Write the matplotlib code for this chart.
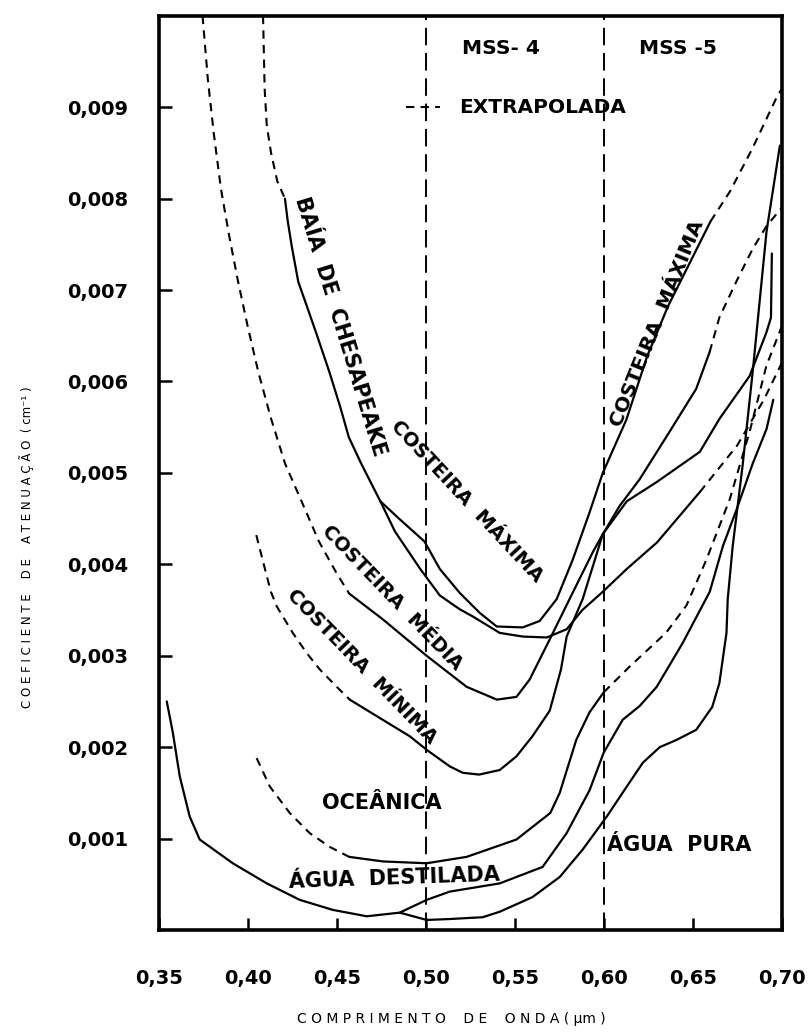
import matplotlib
matplotlib.use("Agg")
import matplotlib.pyplot as plt

# wavelength (um) / attenuation (cm^-1)
ches_ext_x = [0.4086, 0.4095, 0.4107, 0.4131, 0.4166, 0.4209]
ches_ext_y = [0.0100, 0.0092, 0.0088, 0.0085, 0.00819, 0.0080]
ches_x = [0.4209, 0.4225, 0.4249, 0.4284, 0.4331, 0.439, 0.4461, 0.452, 0.4568, 0.4638,
          0.4745, 0.4827, 0.4969, 0.5079, 0.519, 0.5264, 0.5416, 0.5545, 0.568, 0.5792,
          0.588, 0.5995, 0.613, 0.63, 0.654]
ches_y = [0.0080, 0.00775, 0.00746, 0.00709, 0.00683, 0.0065, 0.00609, 0.00572, 0.00539, 0.0051,
          0.00469, 0.00436, 0.00395, 0.00366, 0.00351, 0.00343, 0.00325, 0.00321, 0.0032, 0.00329,
          0.0035, 0.0037, 0.00395, 0.00424, 0.00479]
ches_ext2_x = [0.654, 0.675, 0.690, 0.700]
ches_ext2_y = [0.00479, 0.0053, 0.0058, 0.0062]

cmax_x = [0.4745, 0.4850, 0.4993, 0.5079, 0.519, 0.5303, 0.5399, 0.5545, 0.564, 0.5736,
          0.5826, 0.5921, 0.5995, 0.6127, 0.6245, 0.6363, 0.6505, 0.660]
cmax_y = [0.00469, 0.00450, 0.00425, 0.00395, 0.00369, 0.00347, 0.00332, 0.00331, 0.00338,
          0.00362, 0.00405, 0.00457, 0.00500, 0.00558, 0.00628, 0.00683, 0.00738, 0.00775]
cmax_ext_x = [0.660, 0.671, 0.6836, 0.697, 0.700]
cmax_ext_y = [0.00775, 0.00808, 0.00855, 0.0091, 0.0092]

cmed_ext_x = [0.3746, 0.3776, 0.381, 0.385, 0.3895, 0.3945, 0.400, 0.406, 0.413, 0.421,
              0.430, 0.440, 0.450, 0.457]
cmed_ext_y = [0.0100, 0.0093, 0.0087, 0.0081, 0.0076, 0.0071, 0.0066, 0.0061, 0.0056, 0.0051,
              0.0047, 0.00425, 0.0039, 0.00368]
cmed_x = [0.457, 0.4758, 0.5005, 0.523, 0.540, 0.551, 0.5584, 0.5697, 0.5826, 0.5938,
          0.5995, 0.609, 0.6202, 0.637, 0.652, 0.6595]
cmed_y = [0.00368, 0.0034, 0.0030, 0.00266, 0.00252, 0.00255, 0.00274, 0.00318, 0.00369, 0.00413,
          0.00433, 0.00464, 0.00493, 0.00545, 0.00592, 0.00632]
cmed_ext2_x = [0.6595, 0.665, 0.6747, 0.6837, 0.6915, 0.700]
cmed_ext2_y = [0.00632, 0.0067, 0.0071, 0.00745, 0.0077, 0.0079]

cmin_ext_x = [0.4048, 0.409, 0.413, 0.4163, 0.4253, 0.4331, 0.4405, 0.450, 0.4573]
cmin_ext_y = [0.00432, 0.0040, 0.0037, 0.00354, 0.00325, 0.00303, 0.00285, 0.00266, 0.00252]
cmin_x = [0.4573, 0.4758, 0.491, 0.5006, 0.5135, 0.5208, 0.530, 0.5416, 0.551, 0.560,
          0.5697, 0.5760, 0.5792, 0.5882, 0.5995, 0.613, 0.6298, 0.654, 0.665, 0.682,
          0.6915, 0.694, 0.6945]
cmin_y = [0.00252, 0.0023, 0.00212, 0.00197, 0.00179, 0.00172, 0.0017, 0.00175, 0.0019, 0.00212,
          0.0024, 0.00285, 0.00321, 0.00362, 0.00433, 0.00469, 0.0049, 0.00523, 0.00559, 0.00606,
          0.00654, 0.0067, 0.0074]

ocea_ext_x = [0.405, 0.4124, 0.4236, 0.4348, 0.446, 0.457]
ocea_ext_y = [0.00188, 0.00157, 0.00128, 0.00106, 0.00091, 0.0008]
ocea_x = [0.457, 0.476, 0.5005, 0.523, 0.551, 0.570, 0.5753, 0.5846, 0.592, 0.600]
ocea_y = [0.0008, 0.00075, 0.00073, 0.0008, 0.00099, 0.00128, 0.0015, 0.00208, 0.00238, 0.0026]
ocea_ext2_x = [0.600, 0.6145, 0.635, 0.6465, 0.6577, 0.6708, 0.682, 0.6914, 0.700]
ocea_ext2_y = [0.0026, 0.00288, 0.00325, 0.00355, 0.00405, 0.00471, 0.00545, 0.00617, 0.0066]

dest_x = [0.3545, 0.3579, 0.3618, 0.3674, 0.373, 0.3916, 0.4107, 0.4292, 0.4478, 0.4669,
          0.4854, 0.5006, 0.5135, 0.5416, 0.5657, 0.5792, 0.5921, 0.600, 0.6107, 0.6202,
          0.6298, 0.6444, 0.6596, 0.667, 0.6747, 0.6837, 0.6915, 0.6953]
dest_y = [0.0025, 0.00216, 0.00168, 0.00124, 0.00099, 0.00073, 0.00051, 0.00033, 0.00022, 0.00015,
          0.00019, 0.00033, 0.00042, 0.00051, 0.00069, 0.00106, 0.00153, 0.00194, 0.0023, 0.00245,
          0.00266, 0.00314, 0.0037, 0.0042, 0.0046, 0.0051, 0.00548, 0.0058]

pura_x = [0.4854, 0.5006, 0.5135, 0.532, 0.5416, 0.560, 0.5753, 0.5882, 0.6017, 0.613,
          0.622, 0.6315, 0.641, 0.652, 0.661, 0.665, 0.669, 0.6697, 0.6725, 0.678,
          0.6837, 0.6915, 0.699]
pura_y = [0.00019, 0.00011, 0.00012, 0.00014, 0.0002, 0.00036, 0.00058, 0.00088, 0.00124, 0.00157,
          0.00183, 0.002, 0.00208, 0.00219, 0.00244, 0.0027, 0.00325, 0.00362, 0.0042, 0.00507,
          0.0061, 0.00764, 0.00858]

mss_bounds = [0.50, 0.60]
xticks = [0.35, 0.40, 0.45, 0.50, 0.55, 0.60, 0.65, 0.70]
yticks = [0.001, 0.002, 0.003, 0.004, 0.005, 0.006, 0.007, 0.008, 0.009]

fig = plt.figure(figsize=(8.1, 10.33), dpi=100)
ax = fig.add_axes([0.196, 0.0997, 0.769, 0.885])

solid = dict(color="black", lw=1.6, solid_capstyle="round")
dashed = dict(color="black", lw=1.5, linestyle=(0, (4, 3)))

for xs, ys in [(ches_x, ches_y), (cmax_x, cmax_y), (cmed_x, cmed_y), (cmin_x, cmin_y),
               (ocea_x, ocea_y), (dest_x, dest_y), (pura_x, pura_y)]:
    ax.plot(xs, ys, **solid)
for xs, ys in [(ches_ext_x, ches_ext_y), (ches_ext2_x, ches_ext2_y), (cmax_ext_x, cmax_ext_y),
               (cmed_ext_x, cmed_ext_y), (cmed_ext2_x, cmed_ext2_y), (cmin_ext_x, cmin_ext_y),
               (ocea_ext_x, ocea_ext_y), (ocea_ext2_x, ocea_ext2_y)]:
    ax.plot(xs, ys, **dashed)

for xb in mss_bounds:
    ax.axvline(xb, color="black", lw=1.4, linestyle=(0, (9, 4)))

ax.set_xlim(0.35, 0.70)
ax.set_ylim(0, 0.010)
ax.set_xticks(xticks)
ax.set_xticklabels([f"{v:.2f}".replace(".", ",") for v in xticks])
ax.set_yticks(yticks)
ax.set_yticklabels([f"{v:.3f}".replace(".", ",") for v in yticks])
ax.tick_params(direction="in", length=9, width=1.8, top=False, right=False)
ax.tick_params(axis="x", pad=28, labelsize=14)
ax.tick_params(axis="y", pad=22, labelsize=14)
for lab in ax.get_xticklabels() + ax.get_yticklabels():
    lab.set_fontweight("bold")
for s in ax.spines.values():
    s.set_linewidth(2.6)

def label(x, y, s, size=14, rot=0, ha="center"):
    ax.text(x, y, s, fontsize=size, fontweight="bold", ha=ha, va="center",
            rotation=rot, rotation_mode="anchor")

label(0.542, 0.00964, "MSS- 4", 14.5)
label(0.642, 0.00964, "MSS -5", 14.5)
ax.plot([0.489, 0.508], [0.0090, 0.0090], **dashed)
label(0.5185, 0.0090, "EXTRAPOLADA", 14.5, ha="left")

label(0.452, 0.0066, "BAÍA  DE  CHESAPEAKE", 15, -73)
label(0.523, 0.00469, "COSTEIRA  MÁXIMA", 14, -47)
label(0.6303, 0.00663, "COSTEIRA  MÁXIMA", 14.5, 68)
label(0.481, 0.00364, "COSTEIRA  MÉDIA", 14, -46)
label(0.464, 0.00288, "COSTEIRA  MÍNIMA", 14, -46)
label(0.4753, 0.00139, "OCEÂNICA", 15)
label(0.4826, 0.00057, "ÁGUA  DESTILADA", 15, 2)
label(0.6427, 0.00093, "ÁGUA  PURA", 15)

fig.text(0.557, 0.014, "C O M P R I M E N T O    D E    O N D A ( µm )",
         fontsize=10, ha="center", va="center")
fig.text(0.033, 0.47, "C O E F I C I E N T E    D E    A T E N U A Ç Ã O  ( cm⁻¹ )",
         rotation=90, fontsize=8.5, ha="center", va="center")

fig.savefig("out.png", dpi=100)
